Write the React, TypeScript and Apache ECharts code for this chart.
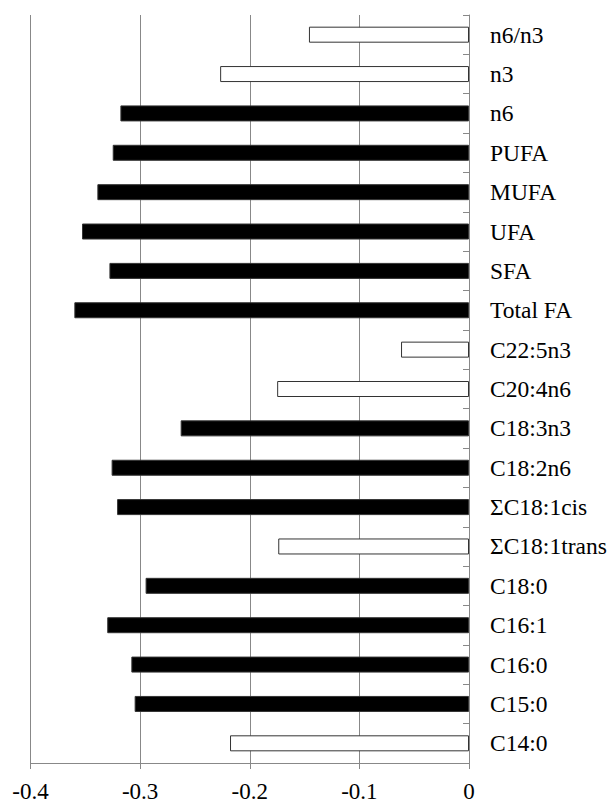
import React, { useEffect, useRef } from "react";
import * as echarts from "echarts";

const categories = [
  "n6/n3", "n3", "n6", "PUFA", "MUFA", "UFA", "SFA", "Total FA",
  "C22:5n3", "C20:4n6", "C18:3n3", "C18:2n6", "ΣC18:1cis", "ΣC18:1trans",
  "C18:0", "C16:1", "C16:0", "C15:0", "C14:0",
];
const values = [
  -0.146, -0.227, -0.318, -0.325, -0.339, -0.353, -0.328, -0.36,
  -0.062, -0.175, -0.263, -0.326, -0.321, -0.174,
  -0.295, -0.33, -0.308, -0.305, -0.218,
];
const significant = [
  false, false, true, true, true, true, true, true,
  false, false, true, true, true, false,
  true, true, true, true, false,
];
const xTicks = { min: -0.4, max: 0, interval: 0.1 };

export default function App() {
  const ref = useRef<HTMLDivElement>(null);
  useEffect(() => {
    if (!ref.current) return;
    const chart = echarts.init(ref.current, null, { renderer: "svg" });
    const font = "'Liberation Serif', 'Times New Roman', serif";
    chart.setOption({
      animation: false,
      backgroundColor: "#fff",
      grid: { left: 30.5, right: 142, top: 15, bottom: 36, containLabel: false },
      xAxis: {
        type: "value",
        min: xTicks.min,
        max: xTicks.max,
        interval: xTicks.interval,
        axisLine: { show: true, lineStyle: { color: "#888", width: 1 } },
        axisTick: { show: true, length: 6, lineStyle: { color: "#888" } },
        splitLine: { show: true, lineStyle: { color: "#888", width: 1 } },
        axisLabel: {
          color: "#000",
          fontFamily: font,
          fontSize: 23,
          margin: 17,
          formatter: (v: number) => (Math.abs(v) < 1e-9 ? "0" : v.toFixed(1)),
        },
      },
      yAxis: {
        type: "category",
        data: categories,
        inverse: true,
        position: "right",
        axisLine: { show: true, onZero: false, lineStyle: { color: "#888", width: 1 } },
        axisTick: { show: true, inside: true, length: 6, lineStyle: { color: "#888" } },
        axisLabel: {
          color: "#000",
          fontFamily: font,
          fontSize: 23.5,
          margin: 21,
          align: "left",
        },
        splitLine: { show: false },
      },
      series: [
        {
          type: "bar",
          barWidth: 16,
          data: values.map((v, i) => ({
            value: v,
            itemStyle: {
              color: significant[i] ? "#000" : "#fff",
              borderColor: "#333",
              borderWidth: 1,
            },
          })),
        },
      ],
    });
    return () => chart.dispose();
  }, []);
  return (
    <div
      ref={ref}
      style={{ position: "absolute", left: 0, top: 0, width: 611, height: 803 }}
    />
  );
}
